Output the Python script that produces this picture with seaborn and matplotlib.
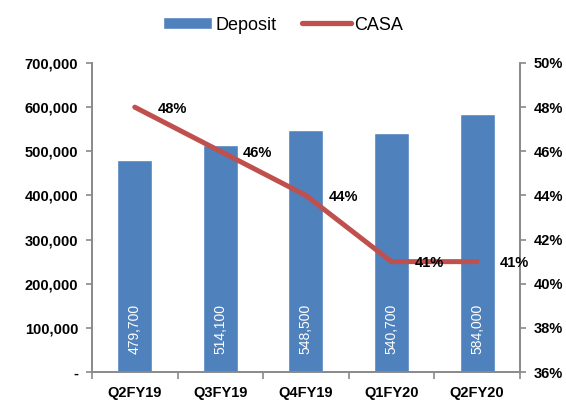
import numpy as np
import pandas as pd
import matplotlib
matplotlib.use("Agg")
import matplotlib.pyplot as plt
import seaborn as sns
from matplotlib.patches import Patch
from matplotlib.lines import Line2D
from matplotlib.ticker import FuncFormatter, FixedLocator

# data
quarters = ["Q2FY19", "Q3FY19", "Q4FY19", "Q1FY20", "Q2FY20"]
deposit = [479700, 514100, 548500, 540700, 584000]
casa = [48, 46, 44, 41, 41]

df = pd.DataFrame({"Quarter": quarters, "Deposit": deposit, "CASA": casa})
df["pos"] = np.arange(len(df))

sns.set_style("white")
plt.rcParams["font.family"] = ["Liberation Sans", "DejaVu Sans"]
plt.rcParams["text.color"] = "black"
plt.rcParams["xtick.labelcolor"] = "black"
plt.rcParams["ytick.labelcolor"] = "black"

bar_color = "#4F81BD"
line_color = "#C0504D"
axis_color = "#898989"

fig = plt.figure(figsize=(5.66, 4.0), dpi=100)
ax = fig.add_axes([0.1625, 0.07, 0.756, 0.7725])

sns.barplot(data=df, x="Quarter", y="Deposit", color=bar_color, width=0.41,
            saturation=1, ax=ax)
ax.set_xlim(-0.5, len(quarters) - 0.5)
ax.set_ylim(0, 700000)
ax.set_yticks(np.arange(0, 700001, 100000))
ax.yaxis.set_major_formatter(FuncFormatter(lambda v, p: "-" if v == 0 else f"{int(v):,}"))
ax.set_xlabel("")
ax.set_ylabel("")

# bar value labels, inside base, rotated
for i, v in enumerate(deposit):
    ax.annotate(f"{v:,}", (i, 0), xytext=(0, 13), textcoords="offset points",
                rotation=90, ha="center", va="bottom", color="white", fontsize=10)

ax2 = ax.twinx()
sns.lineplot(data=df, x="pos", y="CASA", color=line_color, linewidth=3.6,
             ax=ax2, solid_capstyle="round")
ax2.set_ylim(36, 50)
ax2.set_yticks(np.arange(36, 51, 2))
ax2.yaxis.set_major_formatter(FuncFormatter(lambda v, p: f"{int(v)}%"))
ax2.set_xlim(-0.5, len(quarters) - 0.5)
ax2.set_ylabel("")
ax2.set_xlabel("")

for i, v in enumerate(casa):
    ax2.annotate(f"{v}%", (i, v), xytext=(27, -1), textcoords="offset points",
                 ha="center", va="center", fontsize=10.5, fontweight="bold", color="black")

# axes styling
for a in (ax, ax2):
    a.spines["top"].set_visible(False)
    for side in ("left", "right", "bottom"):
        a.spines[side].set_color(axis_color)
        a.spines[side].set_linewidth(1.2)

ax.tick_params(axis="y", direction="out", length=4, color=axis_color, width=1.2,
               labelsize=10.5, left=True, pad=6, labelcolor="black")
ax2.tick_params(axis="y", direction="out", length=4, color=axis_color, width=1.2,
                labelsize=10.5, right=True, pad=6, labelcolor="black")
ax.tick_params(axis="x", which="major", length=0, labelsize=10.5, pad=10, labelcolor="black")
ax.xaxis.set_minor_locator(FixedLocator(np.arange(-0.5, len(quarters), 1.0)))
ax.tick_params(axis="x", which="minor", direction="out", length=5, color=axis_color,
               width=1.2, bottom=True)
for lbl in ax.get_xticklabels() + ax.get_yticklabels() + ax2.get_yticklabels():
    lbl.set_fontweight("bold")

handles = [Patch(facecolor=bar_color, label="Deposit"),
           Line2D([0], [0], color=line_color, linewidth=3.8, solid_capstyle="round", label="CASA")]
fig.legend(handles=handles, loc="center", bbox_to_anchor=(0.5, 0.9375), ncol=2,
           frameon=False, fontsize=13, handlelength=2.7, handleheight=0.6,
           handletextpad=0.2, columnspacing=1.4, labelcolor="black")

fig.savefig("out.png", dpi=100)
